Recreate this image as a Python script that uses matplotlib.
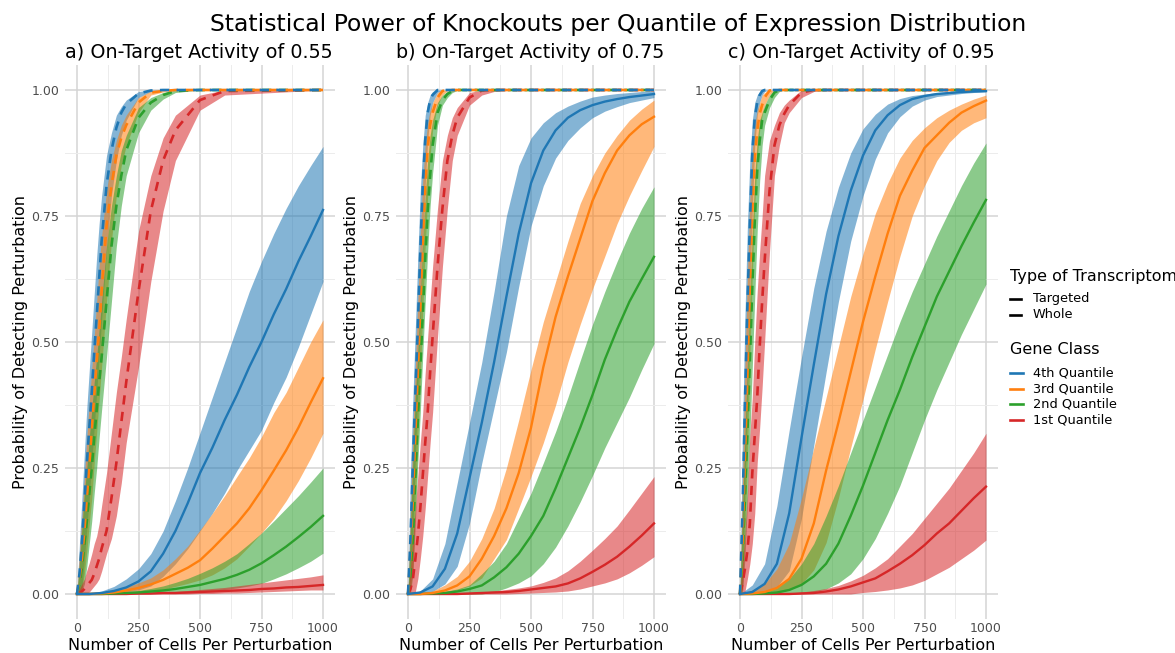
# Power curves per expression quantile, three on-target activity levels
import matplotlib.pyplot as plt
from matplotlib.lines import Line2D

# x positions (cells per perturbation)
x_targ = [0, 10, 20, 30, 40, 50, 60, 70, 80, 90, 100, 120, 140, 160, 180, 200, 250, 300, 350, 400, 500, 600, 1000]
x_whole = [0, 50, 100, 150, 200, 250, 300, 350, 400, 450, 500, 550, 600, 650, 700, 750, 800, 850, 900, 950, 1000]

panel_titles = ["a) On-Target Activity of 0.55", "b) On-Target Activity of 0.75", "c) On-Target Activity of 0.95"]
gene_classes = ["4th Quantile", "3rd Quantile", "2nd Quantile", "1st Quantile"]
class_colors = ["#1f77b4", "#ff7f0e", "#2ca02c", "#d62728"]
type_labels = ["Targeted", "Whole"]

# ---- activity 0.55, targeted transcriptome ----
a55_q4_t = [0, .04, .10, .18, .26, .33, .40, .48, .55, .625, .70, .81, .88, .925, .955, .972, .993, .999, 1, 1, 1, 1, 1]
a55_q4_t_lo = [0, 0, .01, .07, .13, .19, .26, .33, .40, .47, .545, .68, .79, .86, .91, .94, .985, .997, .999, 1, 1, 1, 1]
a55_q4_t_hi = [0, .10, .19, .28, .37, .445, .52, .595, .67, .735, .79, .87, .915, .95, .967, .98, .997, 1, 1, 1, 1, 1, 1]
a55_q3_t = [0, .03, .07, .125, .19, .255, .33, .395, .46, .52, .60, .73, .81, .87, .905, .93, .975, .995, .998, 1, 1, 1, 1]
a55_q3_t_lo = [0, 0, .01, .04, .085, .14, .19, .26, .32, .385, .45, .58, .70, .79, .85, .89, .955, .99, .996, 1, 1, 1, 1]
a55_q3_t_hi = [0, .08, .15, .23, .31, .38, .445, .51, .58, .65, .71, .80, .86, .90, .93, .95, .985, .998, 1, 1, 1, 1, 1]
a55_q2_t = [0, .02, .055, .10, .145, .20, .25, .31, .365, .42, .47, .58, .69, .77, .83, .88, .945, .975, .99, .998, 1, 1, 1]
a55_q2_t_lo = [0, 0, .005, .02, .055, .10, .145, .20, .25, .31, .365, .47, .58, .69, .77, .83, .915, .96, .982, .995, 1, 1, 1]
a55_q2_t_hi = [0, .06, .13, .20, .25, .31, .365, .42, .47, .525, .58, .69, .77, .83, .88, .91, .965, .985, .995, 1, 1, 1, 1]
a55_q1_t = [0, .002, .005, .01, .016, .022, .028, .04, .055, .07, .09, .125, .19, .26, .34, .42, .60, .76, .86, .92, .98, .998, 1]
a55_q1_t_lo = [0, 0, 0, 0, .001, .004, .01, .016, .022, .03, .045, .08, .11, .155, .22, .30, .45, .62, .76, .86, .96, .99, 1]
a55_q1_t_hi = [0, .01, .02, .03, .047, .062, .08, .10, .115, .14, .175, .24, .32, .40, .47, .545, .72, .83, .905, .95, .99, 1, 1]

# ---- activity 0.55, whole transcriptome ----
a55_q4_w = [0, 0, .002, .006, .013, .025, .045, .08, .125, .18, .24, .29, .345, .395, .45, .50, .555, .605, .66, .71, .762]
a55_q4_w_lo = [0, 0, 0, .001, .004, .008, .016, .035, .06, .09, .125, .16, .20, .245, .285, .325, .38, .43, .49, .555, .62]
a55_q4_w_hi = [0, .001, .006, .015, .03, .05, .08, .125, .185, .25, .32, .39, .46, .53, .60, .66, .715, .765, .81, .85, .888]
a55_q3_w = [0, 0, .001, .003, .007, .012, .019, .028, .04, .052, .067, .09, .115, .14, .17, .206, .245, .285, .33, .38, .428]
a55_q3_w_lo = [0, 0, 0, .001, .002, .003, .005, .009, .015, .021, .028, .038, .052, .07, .095, .121, .15, .185, .225, .27, .319]
a55_q3_w_hi = [0, .001, .003, .007, .014, .022, .032, .048, .07, .095, .127, .16, .195, .233, .27, .312, .36, .40, .45, .50, .544]
a55_q2_w = [0, 0, 0, .001, .002, .003, .005, .007, .01, .014, .018, .024, .03, .038, .048, .061, .077, .094, .113, .133, .155]
a55_q2_w_lo = [0, 0, 0, 0, 0, 0, .001, .001, .002, .003, .005, .007, .009, .012, .016, .021, .03, .04, .052, .065, .081]
a55_q2_w_hi = [0, 0, .001, .002, .004, .007, .011, .016, .023, .031, .041, .052, .065, .08, .10, .121, .145, .17, .195, .222, .25]
a55_q1_w = [0, 0, 0, 0, 0, .001, .001, .002, .002, .003, .004, .005, .006, .007, .008, .01, .011, .013, .014, .016, .018]
a55_q1_w_lo = [0, 0, 0, 0, 0, 0, 0, 0, 0, 0, .001, .001, .002, .002, .003, .004, .005, .006, .007, .008, .008]
a55_q1_w_hi = [0, 0, 0, .001, .001, .002, .003, .004, .005, .007, .009, .011, .013, .016, .019, .022, .025, .028, .031, .034, .038]

# ---- activity 0.75, targeted transcriptome ----
a75_q4_t = [0, .11, .26, .40, .53, .68, .81, .90, .955, .98, .99, 1, 1, 1, 1, 1, 1, 1, 1, 1, 1, 1, 1]
a75_q4_t_lo = [0, .03, .13, .27, .41, .55, .69, .81, .90, .95, .975, .995, 1, 1, 1, 1, 1, 1, 1, 1, 1, 1, 1]
a75_q4_t_hi = [0, .24, .39, .53, .67, .80, .89, .95, .975, .99, .997, 1, 1, 1, 1, 1, 1, 1, 1, 1, 1, 1, 1]
a75_q3_t = [0, .08, .19, .32, .44, .57, .70, .81, .885, .93, .955, .985, .998, 1, 1, 1, 1, 1, 1, 1, 1, 1, 1]
a75_q3_t_lo = [0, .01, .05, .18, .31, .43, .56, .69, .79, .87, .92, .97, .99, .998, 1, 1, 1, 1, 1, 1, 1, 1, 1]
a75_q3_t_hi = [0, .16, .32, .45, .58, .71, .82, .89, .935, .96, .975, .995, 1, 1, 1, 1, 1, 1, 1, 1, 1, 1, 1]
a75_q2_t = [0, .04, .11, .235, .345, .45, .555, .665, .76, .83, .89, .955, .98, .992, .998, 1, 1, 1, 1, 1, 1, 1, 1]
a75_q2_t_lo = [0, 0, .04, .14, .26, .36, .475, .58, .68, .77, .835, .93, .97, .985, .995, .999, 1, 1, 1, 1, 1, 1, 1]
a75_q2_t_hi = [0, .13, .27, .395, .48, .58, .70, .79, .86, .91, .94, .975, .99, .997, 1, 1, 1, 1, 1, 1, 1, 1, 1]
a75_q1_t = [0, .01, .03, .07, .115, .17, .235, .30, .36, .44, .51, .65, .765, .86, .91, .945, .985, .999, 1, 1, 1, 1, 1]
a75_q1_t_lo = [0, 0, 0, .005, .03, .07, .115, .17, .235, .30, .36, .51, .65, .765, .86, .91, .97, .99, .997, 1, 1, 1, 1]
a75_q1_t_hi = [0, .05, .115, .17, .235, .30, .36, .44, .51, .58, .65, .765, .86, .91, .945, .965, .995, 1, 1, 1, 1, 1, 1]

# ---- activity 0.75, whole transcriptome ----
a75_q4_w = [0, .003, .015, .05, .12, .23, .34, .46, .59, .715, .815, .88, .92, .945, .96, .97, .977, .982, .986, .989, .992]
a75_q4_w_lo = [0, 0, .005, .02, .055, .14, .26, .37, .48, .61, .73, .81, .865, .90, .925, .945, .958, .967, .975, .98, .985]
a75_q4_w_hi = [0, .006, .03, .10, .22, .34, .46, .60, .75, .85, .905, .935, .955, .968, .978, .986, .99, .993, .995, .997, .998]
a75_q3_w = [0, 0, .002, .007, .017, .035, .07, .115, .17, .24, .33, .45, .55, .63, .705, .78, .835, .88, .91, .932, .947]
a75_q3_w_lo = [0, 0, 0, .002, .008, .016, .032, .07, .108, .17, .233, .30, .375, .46, .535, .605, .67, .735, .79, .84, .888]
a75_q3_w_hi = [0, .001, .006, .018, .035, .065, .11, .17, .25, .345, .445, .54, .62, .70, .775, .83, .875, .91, .94, .962, .98]
a75_q2_w = [0, 0, .001, .002, .005, .01, .017, .033, .053, .08, .115, .155, .21, .27, .33, .395, .465, .525, .58, .625, .669]
a75_q2_w_lo = [0, 0, 0, 0, 0, 0, 0, .004, .012, .022, .036, .06, .093, .135, .183, .235, .29, .34, .39, .445, .497]
a75_q2_w_hi = [0, 0, .002, .005, .01, .018, .04, .065, .10, .15, .20, .26, .322, .39, .463, .535, .60, .66, .716, .765, .808]
a75_q1_w = [0, 0, 0, 0, 0, .001, .002, .003, .004, .006, .009, .012, .015, .021, .031, .044, .058, .074, .094, .116, .14]
a75_q1_w_lo = [0, 0, 0, 0, 0, 0, 0, 0, 0, .001, .002, .003, .004, .006, .01, .016, .022, .03, .042, .057, .074]
a75_q1_w_hi = [0, 0, 0, .001, .002, .003, .004, .006, .009, .012, .016, .023, .032, .046, .065, .087, .11, .135, .167, .20, .233]

# ---- activity 0.95, targeted transcriptome ----
a95_q4_t = [0, .16, .375, .57, .73, .875, .945, .975, .99, .998, 1, 1, 1, 1, 1, 1, 1, 1, 1, 1, 1, 1, 1]
a95_q4_t_lo = [0, .02, .21, .41, .60, .76, .89, .95, .975, .99, .997, 1, 1, 1, 1, 1, 1, 1, 1, 1, 1, 1, 1]
a95_q4_t_hi = [0, .32, .55, .73, .86, .94, .975, .99, .997, 1, 1, 1, 1, 1, 1, 1, 1, 1, 1, 1, 1, 1, 1]
a95_q3_t = [0, .10, .27, .43, .61, .76, .865, .92, .953, .97, .985, .999, 1, 1, 1, 1, 1, 1, 1, 1, 1, 1, 1]
a95_q3_t_lo = [0, .01, .12, .27, .47, .63, .77, .865, .92, .95, .97, .99, 1, 1, 1, 1, 1, 1, 1, 1, 1, 1, 1]
a95_q3_t_hi = [0, .22, .45, .63, .78, .88, .93, .96, .975, .99, .995, 1, 1, 1, 1, 1, 1, 1, 1, 1, 1, 1, 1]
a95_q2_t = [0, .07, .19, .32, .46, .61, .74, .84, .90, .94, .955, .98, .995, 1, 1, 1, 1, 1, 1, 1, 1, 1, 1]
a95_q2_t_lo = [0, 0, .07, .18, .31, .45, .59, .72, .82, .89, .93, .965, .985, .997, 1, 1, 1, 1, 1, 1, 1, 1, 1]
a95_q2_t_hi = [0, .16, .31, .45, .59, .72, .83, .90, .94, .955, .97, .99, 1, 1, 1, 1, 1, 1, 1, 1, 1, 1, 1]
a95_q1_t = [0, .02, .05, .085, .14, .24, .315, .39, .49, .58, .66, .80, .89, .93, .953, .97, .995, 1, 1, 1, 1, 1, 1]
a95_q1_t_lo = [0, 0, .005, .03, .06, .10, .16, .26, .33, .41, .50, .68, .83, .89, .935, .955, .985, .997, .999, 1, 1, 1, 1]
a95_q1_t_hi = [0, .06, .12, .20, .315, .39, .50, .60, .68, .75, .83, .90, .93, .955, .97, .98, 1, 1, 1, 1, 1, 1, 1]

# ---- activity 0.95, whole transcriptome ----
a95_q4_w = [0, .004, .02, .06, .16, .31, .455, .595, .71, .80, .87, .92, .95, .97, .982, .988, .992, .994, .996, .997, .998]
a95_q4_w_lo = [0, 0, .003, .014, .046, .15, .295, .44, .58, .70, .79, .863, .915, .947, .968, .98, .987, .99, .993, .995, .996]
a95_q4_w_hi = [0, .018, .06, .175, .325, .47, .607, .72, .807, .875, .923, .952, .972, .983, .989, .992, .995, .996, .997, .998, .999]
a95_q3_w = [0, .001, .004, .012, .03, .07, .14, .245, .34, .44, .54, .63, .715, .79, .84, .885, .91, .935, .955, .968, .979]
a95_q3_w_lo = [0, 0, 0, .002, .008, .02, .048, .102, .19, .29, .386, .486, .58, .67, .75, .81, .86, .896, .92, .935, .945]
a95_q3_w_hi = [0, .008, .02, .05, .10, .19, .29, .39, .49, .59, .675, .755, .815, .865, .90, .925, .945, .96, .972, .982, .99]
a95_q2_w = [0, 0, .001, .003, .008, .018, .035, .06, .10, .155, .215, .28, .345, .405, .47, .53, .59, .64, .69, .737, .782]
a95_q2_w_lo = [0, 0, 0, 0, 0, .001, .004, .01, .022, .04, .07, .11, .16, .215, .28, .345, .405, .46, .515, .565, .615]
a95_q2_w_hi = [0, 0, .004, .012, .03, .06, .10, .155, .215, .28, .345, .41, .475, .54, .60, .655, .71, .76, .81, .855, .895]
a95_q1_w = [0, 0, 0, 0, 0, .001, .002, .005, .009, .015, .023, .031, .045, .06, .077, .097, .12, .14, .165, .19, .213]
a95_q1_w_lo = [0, 0, 0, 0, 0, 0, 0, 0, 0, 0, .003, .005, .008, .012, .018, .027, .04, .053, .07, .087, .107]
a95_q1_w_hi = [0, 0, 0, .001, .002, .004, .007, .011, .017, .026, .037, .052, .07, .095, .12, .15, .18, .21, .245, .28, .319]

# group per panel: (mean, lo, hi) in gene class order
targeted = [
    [(a55_q4_t, a55_q4_t_lo, a55_q4_t_hi), (a55_q3_t, a55_q3_t_lo, a55_q3_t_hi),
     (a55_q2_t, a55_q2_t_lo, a55_q2_t_hi), (a55_q1_t, a55_q1_t_lo, a55_q1_t_hi)],
    [(a75_q4_t, a75_q4_t_lo, a75_q4_t_hi), (a75_q3_t, a75_q3_t_lo, a75_q3_t_hi),
     (a75_q2_t, a75_q2_t_lo, a75_q2_t_hi), (a75_q1_t, a75_q1_t_lo, a75_q1_t_hi)],
    [(a95_q4_t, a95_q4_t_lo, a95_q4_t_hi), (a95_q3_t, a95_q3_t_lo, a95_q3_t_hi),
     (a95_q2_t, a95_q2_t_lo, a95_q2_t_hi), (a95_q1_t, a95_q1_t_lo, a95_q1_t_hi)],
]
whole = [
    [(a55_q4_w, a55_q4_w_lo, a55_q4_w_hi), (a55_q3_w, a55_q3_w_lo, a55_q3_w_hi),
     (a55_q2_w, a55_q2_w_lo, a55_q2_w_hi), (a55_q1_w, a55_q1_w_lo, a55_q1_w_hi)],
    [(a75_q4_w, a75_q4_w_lo, a75_q4_w_hi), (a75_q3_w, a75_q3_w_lo, a75_q3_w_hi),
     (a75_q2_w, a75_q2_w_lo, a75_q2_w_hi), (a75_q1_w, a75_q1_w_lo, a75_q1_w_hi)],
    [(a95_q4_w, a95_q4_w_lo, a95_q4_w_hi), (a95_q3_w, a95_q3_w_lo, a95_q3_w_hi),
     (a95_q2_w, a95_q2_w_lo, a95_q2_w_hi), (a95_q1_w, a95_q1_w_lo, a95_q1_w_hi)],
]

DASH = (3.5, 2.8)
W, H = 1175, 653
fig = plt.figure(figsize=(W / 100, H / 100), dpi=100)
panel_left = [64.7, 395.7, 727.7]

for p in range(3):
    ax = fig.add_axes([panel_left[p] / W, 33.8 / H, 270.6 / W, 554.4 / H])

    # ribbons first, then lines
    for k in range(4):
        m, lo, hi = targeted[p][k]
        ax.fill_between(x_targ, lo, hi, color=class_colors[k], alpha=0.55, lw=0)
        m, lo, hi = whole[p][k]
        ax.fill_between(x_whole, lo, hi, color=class_colors[k], alpha=0.55, lw=0)
    for k in [3, 2, 1, 0]:
        ax.plot(x_whole, whole[p][k][0], color=class_colors[k], lw=1.7)
        ax.plot(x_targ, targeted[p][k][0], color=class_colors[k], lw=1.9, dashes=DASH)

    ax.set_xlim(-50, 1050)
    ax.set_ylim(-0.05, 1.05)
    ax.set_xticks([0, 250, 500, 750, 1000])
    ax.set_xticks([125, 375, 625, 875], minor=True)
    ax.set_yticks([0, 0.25, 0.5, 0.75, 1.0])
    ax.set_yticklabels(["0.00", "0.25", "0.50", "0.75", "1.00"])
    ax.set_yticks([0.125, 0.375, 0.625, 0.875], minor=True)
    ax.grid(which="major", color="#d4d4d4", lw=1.1, zorder=0)
    ax.grid(which="minor", color="#ececec", lw=0.7, zorder=0)
    ax.set_axisbelow(True)
    ax.tick_params(which="both", length=0, labelsize=9, labelcolor="#4d4d4d")
    ax.tick_params(axis="x", pad=2)
    ax.tick_params(axis="y", pad=4)
    for s in ax.spines.values():
        s.set_visible(False)

    ax.set_title(panel_titles[p], loc="left", fontsize=13.8, pad=5)
    ax.set_xlabel("Number of Cells Per Perturbation", fontsize=11.5, labelpad=2.5)
    ax.set_ylabel("Probability of Detecting Perturbation", fontsize=11.5, labelpad=2)

fig.text(618.5 / W, 1 - 24 / H,
         "Statistical Power of Knockouts per Quantile of Expression Distribution",
         fontsize=16.9, ha="center", va="center")

# legends drawn by hand (ggplot layout)
def fx(px):
    return px / W

def fy(py):
    return 1 - py / H

fig.text(fx(1010), fy(276), "Type of Transcriptome", fontsize=11.5, va="center")
for i, lab in enumerate(type_labels):
    yy = fy(299 + 15.5 * i)
    ln = Line2D([fx(1010), fx(1021)], [yy, yy], color="black", lw=1.9,
                transform=fig.transFigure)
    fig.add_artist(ln)
    fig.text(fx(1033), yy, lab, fontsize=9.3, va="center")

fig.text(fx(1010), fy(350), "Gene Class", fontsize=11.5, va="center")
for i, lab in enumerate(gene_classes):
    yy = fy(373 + 15.6 * i)
    ln = Line2D([fx(1010), fx(1023)], [yy, yy], color=class_colors[i], lw=1.9,
                transform=fig.transFigure)
    fig.add_artist(ln)
    fig.text(fx(1033), yy, lab, fontsize=9.3, va="center")

fig.savefig("out.png", dpi=100)
